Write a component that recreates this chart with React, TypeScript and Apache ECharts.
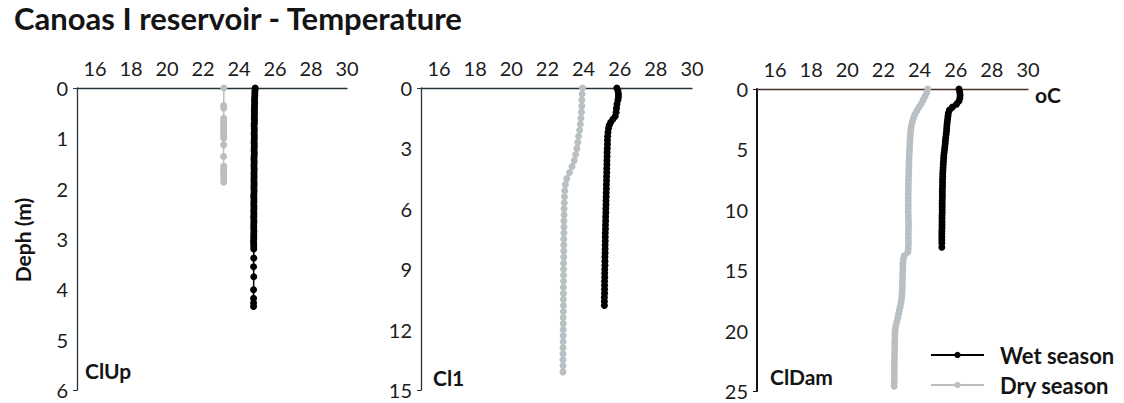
import React, { useEffect, useRef } from "react";
import * as echarts from "echarts";

// ---------- data ----------
const TITLE = "Canoas I reservoir - Temperature";
const PANEL_NAMES = ["ClUp", "Cl1", "ClDam"];
const SERIES_NAMES = ["Wet season", "Dry season"];
const X_TICKS = [16, 18, 20, 22, 24, 26, 28, 30];
const Y_MAX = [6, 15, 25];
const Y_INTERVAL = [1, 3, 5];

// Panel 1 (ClUp)
const P1_WET_DEPTH = [0, 0.05, 0.1, 0.15, 0.2, 0.25, 0.3, 0.35, 0.4, 0.45, 0.5, 0.55, 0.6, 0.65, 0.7, 0.75, 0.8, 0.85, 0.9, 0.95, 1.0, 1.05, 1.1, 1.15, 1.2, 1.25, 1.3, 1.35, 1.4, 1.45, 1.5, 1.55, 1.6, 1.65, 1.7, 1.75, 1.8, 1.85, 1.9, 1.95, 2.0, 2.05, 2.1, 2.15, 2.2, 2.25, 2.3, 2.35, 2.4, 2.45, 2.5, 2.55, 2.6, 2.65, 2.7, 2.75, 2.8, 2.85, 2.9, 2.95, 3.0, 3.05, 3.1, 3.15, 3.2, 3.38, 3.55, 3.75, 4.01, 4.18, 4.27, 4.34];
const P1_WET_TEMP = [24.9, 24.89, 24.88, 24.88, 24.87, 24.86, 24.87, 24.86, 24.86, 24.85, 24.86, 24.85, 24.85, 24.86, 24.85, 24.84, 24.85, 24.85, 24.84, 24.85, 24.85, 24.84, 24.84, 24.85, 24.84, 24.84, 24.85, 24.84, 24.83, 24.84, 24.84, 24.83, 24.84, 24.84, 24.83, 24.84, 24.83, 24.83, 24.84, 24.83, 24.83, 24.84, 24.83, 24.82, 24.83, 24.83, 24.82, 24.83, 24.83, 24.82, 24.83, 24.82, 24.82, 24.83, 24.82, 24.82, 24.82, 24.83, 24.82, 24.82, 24.82, 24.81, 24.82, 24.82, 24.82, 24.82, 24.81, 24.82, 24.81, 24.81, 24.81, 24.81];
const P1_DRY_DEPTH = [0, 0.35, 0.4, 0.6, 0.65, 0.7, 0.75, 0.8, 0.85, 0.9, 0.95, 1.0, 1.13, 1.36, 1.55, 1.6, 1.65, 1.7, 1.75, 1.8, 1.87];
const P1_DRY_TEMP = [23.16, 23.15, 23.15, 23.15, 23.15, 23.15, 23.14, 23.15, 23.15, 23.14, 23.15, 23.15, 23.15, 23.14, 23.15, 23.15, 23.14, 23.15, 23.15, 23.15, 23.15];

// Panel 2 (Cl1)
const P2_WET_DEPTH = [0, 0.15, 0.3, 0.45, 0.6, 0.8, 1.0, 1.2, 1.4, 1.55, 1.7, 1.85, 2.0, 2.2, 2.4, 2.6, 2.8, 3.0, 3.2, 3.4, 3.6, 3.8, 4.0, 4.2, 4.4, 4.6, 4.8, 5.0, 5.2, 5.4, 5.6, 5.8, 6.0, 6.2, 6.4, 6.6, 6.8, 7.0, 7.2, 7.4, 7.6, 7.8, 8.0, 8.2, 8.4, 8.6, 8.8, 9.0, 9.2, 9.4, 9.6, 9.8, 10.0, 10.2, 10.4, 10.6, 10.8];
const P2_WET_TEMP = [25.84, 25.9, 25.93, 25.93, 25.9, 25.85, 25.82, 25.8, 25.75, 25.62, 25.5, 25.42, 25.38, 25.35, 25.33, 25.32, 25.32, 25.31, 25.3, 25.3, 25.29, 25.29, 25.28, 25.28, 25.27, 25.27, 25.26, 25.26, 25.25, 25.25, 25.24, 25.24, 25.23, 25.23, 25.22, 25.22, 25.21, 25.21, 25.2, 25.2, 25.2, 25.19, 25.19, 25.19, 25.18, 25.18, 25.18, 25.17, 25.17, 25.17, 25.16, 25.16, 25.16, 25.16, 25.15, 25.15, 25.15];
const P2_DRY_DEPTH = [0, 0.3, 0.6, 0.9, 1.2, 1.5, 1.8, 2.1, 2.4, 2.7, 3.0, 3.3, 3.6, 3.9, 4.2, 4.5, 4.8, 5.1, 5.4, 5.7, 6.0, 6.3, 6.6, 6.9, 7.2, 7.5, 7.8, 8.1, 8.4, 8.7, 9.0, 9.3, 9.6, 9.9, 10.2, 10.5, 10.8, 11.1, 11.4, 11.7, 12.0, 12.3, 12.6, 12.9, 13.2, 13.5, 13.8, 14.1];
const P2_DRY_TEMP = [23.94, 23.92, 23.9, 23.9, 23.88, 23.85, 23.82, 23.78, 23.72, 23.68, 23.63, 23.56, 23.48, 23.36, 23.22, 23.07, 22.99, 22.96, 22.94, 22.93, 22.92, 22.92, 22.91, 22.91, 22.91, 22.9, 22.9, 22.9, 22.9, 22.89, 22.89, 22.89, 22.89, 22.88, 22.88, 22.88, 22.88, 22.88, 22.87, 22.87, 22.87, 22.87, 22.87, 22.86, 22.86, 22.86, 22.86, 22.86];

// Panel 3 (ClDam)
const P3_WET_DEPTH = [0, 0.25, 0.5, 0.75, 1.0, 1.25, 1.5, 1.75, 2.0, 2.25, 2.5, 2.75, 3.0, 3.25, 3.5, 3.75, 4.0, 4.25, 4.5, 4.75, 5.0, 5.25, 5.5, 5.75, 6.0, 6.25, 6.5, 6.75, 7.0, 7.25, 7.5, 7.75, 8.0, 8.25, 8.5, 8.75, 9.0, 9.25, 9.5, 9.75, 10.0, 10.25, 10.5, 10.75, 11.0, 11.25, 11.5, 11.75, 12.0, 12.25, 12.5, 12.75, 13.1];
const P3_WET_TEMP = [26.18, 26.22, 26.24, 26.23, 26.18, 26.05, 25.82, 25.65, 25.59, 25.57, 25.55, 25.53, 25.51, 25.5, 25.49, 25.47, 25.45, 25.43, 25.42, 25.4, 25.38, 25.36, 25.34, 25.33, 25.32, 25.31, 25.3, 25.29, 25.28, 25.28, 25.27, 25.27, 25.27, 25.26, 25.26, 25.26, 25.26, 25.25, 25.25, 25.25, 25.25, 25.25, 25.24, 25.24, 25.24, 25.24, 25.24, 25.23, 25.23, 25.23, 25.23, 25.23, 25.23];
const P3_DRY_DEPTH = [0, 0.3, 0.6, 0.9, 1.2, 1.5, 1.8, 2.1, 2.4, 2.7, 3.0, 3.3, 3.6, 3.9, 4.2, 4.5, 4.8, 5.1, 5.4, 5.7, 6.0, 6.3, 6.6, 6.9, 7.2, 7.5, 7.8, 8.1, 8.4, 8.7, 9.0, 9.3, 9.6, 9.9, 10.2, 10.5, 10.8, 11.1, 11.4, 11.7, 12.0, 12.3, 12.6, 12.9, 13.2, 13.5, 13.8, 14.1, 14.4, 14.7, 15.0, 15.3, 15.6, 15.9, 16.2, 16.5, 16.8, 17.1, 17.4, 17.7, 18.0, 18.3, 18.6, 18.9, 19.2, 19.5, 19.8, 20.1, 20.4, 20.7, 21.0, 21.3, 21.6, 21.9, 22.2, 22.5, 22.8, 23.1, 23.4, 23.7, 24.0, 24.3, 24.6];
const P3_DRY_TEMP = [24.45, 24.4, 24.3, 24.2, 24.1, 23.97, 23.85, 23.74, 23.66, 23.6, 23.55, 23.52, 23.5, 23.48, 23.47, 23.46, 23.45, 23.44, 23.43, 23.42, 23.41, 23.41, 23.4, 23.4, 23.39, 23.39, 23.38, 23.38, 23.38, 23.37, 23.37, 23.37, 23.37, 23.37, 23.37, 23.38, 23.38, 23.39, 23.39, 23.38, 23.38, 23.38, 23.38, 23.38, 23.37, 23.35, 23.15, 23.1, 23.08, 23.07, 23.07, 23.06, 23.06, 23.05, 23.05, 23.04, 23.03, 23.02, 23.0, 22.97, 22.93, 22.88, 22.84, 22.8, 22.75, 22.7, 22.66, 22.64, 22.63, 22.63, 22.62, 22.62, 22.62, 22.61, 22.61, 22.61, 22.6, 22.6, 22.6, 22.6, 22.6, 22.59, 22.59];

const WET = [
  { t: P1_WET_TEMP, d: P1_WET_DEPTH },
  { t: P2_WET_TEMP, d: P2_WET_DEPTH },
  { t: P3_WET_TEMP, d: P3_WET_DEPTH },
];
const DRY = [
  { t: P1_DRY_TEMP, d: P1_DRY_DEPTH },
  { t: P2_DRY_TEMP, d: P2_DRY_DEPTH },
  { t: P3_DRY_TEMP, d: P3_DRY_DEPTH },
];

// ---------- layout / style ----------
const FONT = "Lato";
const GRIDS = [
  { left: 77, top: 88, width: 270, height: 302 },
  { left: 421, top: 88, width: 271, height: 302 },
  { left: 757, top: 89, width: 271, height: 302 },
];
const AXIS_COLORS = [
  { x: "#25353b", y: "#25353b" },
  { x: "#25353b", y: "#25353b" },
  { x: "#4a2d28", y: "#111111" },
];
const WET_COLOR = "#000000";
const DRY_COLOR = "#b9bfc2";
const TEXT_COLOR = "#141414";

const zip = (t: number[], d: number[]) => t.map((v, i) => [v, d[i]]);

export default function App() {
  const ref = useRef<HTMLDivElement>(null);

  useEffect(() => {
    document.body.style.margin = "0";
    if (!ref.current) return;
    const chart = echarts.init(ref.current, undefined, { renderer: "svg" });

    const xAxis = GRIDS.map((_, i) => ({
      type: "value",
      gridIndex: i,
      position: "top",
      min: 15,
      max: 30,
      axisLine: { show: true, onZero: false, lineStyle: { color: AXIS_COLORS[i].x, width: 1.3 } },
      axisTick: { show: false },
      splitLine: { show: false },
      axisLabel: {
        customValues: X_TICKS,
        fontSize: 20,
        fontFamily: FONT,
        color: "#1c1c1c",
        margin: 10,
      },
    }));

    const yAxis = GRIDS.map((_, i) => ({
      type: "value",
      gridIndex: i,
      inverse: true,
      min: 0,
      max: Y_MAX[i],
      interval: Y_INTERVAL[i],
      axisLine: { show: true, onZero: false, lineStyle: { color: AXIS_COLORS[i].y, width: i === 2 ? 2 : 1.3 } },
      axisTick: { show: true, customValues: [0, Y_MAX[i]], length: 4, lineStyle: { color: AXIS_COLORS[i].y } },
      splitLine: { show: false },
      axisLabel: { fontSize: 20, fontFamily: FONT, color: "#1c1c1c", margin: 9 },
    }));

    const series: any[] = [];
    for (let i = 0; i < 3; i++) {
      series.push({
        type: "line",
        name: SERIES_NAMES[1],
        xAxisIndex: i,
        yAxisIndex: i,
        data: zip(DRY[i].t, DRY[i].d),
        symbol: "circle",
        symbolSize: 7,
        showSymbol: true,
        lineStyle: { color: DRY_COLOR, width: 1.5 },
        itemStyle: { color: DRY_COLOR },
        z: 2,
      });
      series.push({
        type: "line",
        name: SERIES_NAMES[0],
        xAxisIndex: i,
        yAxisIndex: i,
        data: zip(WET[i].t, WET[i].d),
        symbol: "circle",
        symbolSize: 7,
        showSymbol: true,
        lineStyle: { color: WET_COLOR, width: 1.5 },
        itemStyle: { color: WET_COLOR },
        z: 3,
      });
    }

    const labelPos = [
      { x: 85, y: 370 },
      { x: 433, y: 377 },
      { x: 770, y: 376 },
    ];

    const legendBase = {
      orient: "vertical",
      left: 930,
      padding: 0,
      itemWidth: 53,
      itemHeight: 8,
      selectedMode: false,
      textStyle: {
        fontSize: 22,
        fontWeight: "bold",
        fontFamily: FONT,
        color: TEXT_COLOR,
        lineHeight: 24,
        padding: [0, 0, 0, 11],
      },
    };

    chart.setOption({
      animation: false,
      backgroundColor: "#ffffff",
      textStyle: { fontFamily: FONT },
      grid: GRIDS.map((g) => ({ ...g })),
      xAxis,
      yAxis,
      legend: [
        { ...legendBase, data: [SERIES_NAMES[0]], top: 343 },
        { ...legendBase, data: [SERIES_NAMES[1]], top: 373 },
      ],
      graphic: [
        {
          type: "text",
          left: 14,
          top: 2,
          style: { text: TITLE, font: `bold 31px ${FONT}`, fill: TEXT_COLOR },
        },
        {
          type: "text",
          x: 22,
          y: 240,
          rotation: Math.PI / 2,
          style: {
            text: "Deph (m)",
            font: `bold 21px ${FONT}`,
            fill: TEXT_COLOR,
            align: "center",
            verticalAlign: "middle",
          },
        },
        ...PANEL_NAMES.map((n, i) => ({
          type: "text",
          x: labelPos[i].x,
          y: labelPos[i].y,
          style: {
            text: n,
            font: `bold 21px ${FONT}`,
            fill: TEXT_COLOR,
            align: "left",
            verticalAlign: "middle",
          },
        })),
        {
          type: "text",
          x: 1035,
          y: 94,
          style: {
            text: "oC",
            font: `bold 21px ${FONT}`,
            fill: TEXT_COLOR,
            align: "left",
            verticalAlign: "middle",
          },
        },
      ],
      series,
    });

    return () => chart.dispose();
  }, []);

  return <div ref={ref} style={{ width: 1124, height: 403 }} />;
}
